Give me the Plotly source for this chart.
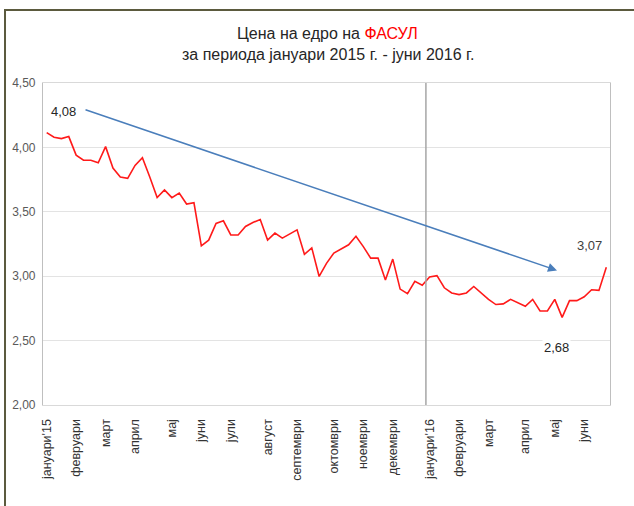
import plotly.graph_objects as go

# ---- data ----
prices = [4.115, 4.079, 4.068, 4.084, 3.94, 3.90, 3.90, 3.88, 4.006, 3.84,
          3.77, 3.76, 3.86, 3.92, 3.77, 3.61, 3.67, 3.61, 3.645, 3.56,
          3.57, 3.236, 3.28, 3.41, 3.43, 3.32, 3.32, 3.386, 3.417, 3.44,
          3.28, 3.335, 3.296, 3.33, 3.36, 3.17, 3.22, 2.998, 3.10, 3.18,
          3.21, 3.244, 3.31, 3.23, 3.14, 3.14, 2.97, 3.133, 2.90, 2.864,
          2.96, 2.93, 2.994, 3.004, 2.91, 2.87, 2.857, 2.87, 2.92, 2.87,
          2.82, 2.78, 2.785, 2.82, 2.79, 2.766, 2.82, 2.73, 2.73, 2.82,
          2.68, 2.81, 2.81, 2.84, 2.895, 2.89, 3.07]
week_index = list(range(len(prices)))

month_labels = ["јануари'15", "февруари", "март", "април", "мај", "јуни", "јули",
                "август", "септември", "октомври", "ноември", "декември",
                "јануари'16", "февруари", "март", "април", "мај", "јуни"]
month_start_week = [0, 4, 8, 12, 17, 21, 25, 30, 34, 39, 43, 47, 52, 56, 60, 65, 69, 73]

y_ticks = [2.0, 2.5, 3.0, 3.5, 4.0, 4.5]
label_start = "4,08"
label_end = "3,07"
label_min = "2,68"

FONT = "Liberation Sans Narrow, Arial Narrow, Liberation Sans, Arial, sans-serif"
TICKFONT = "Liberation Sans, Arial, sans-serif"

fig = go.Figure()
fig.add_trace(go.Scatter(x=week_index, y=prices, mode="lines",
                         line=dict(color="#ff1a1a", width=1.6),
                         hoverinfo="skip", showlegend=False))

jan16 = month_start_week[month_labels.index("јануари'16")]

fig.update_layout(
    width=634, height=506,
    margin=dict(l=43, r=24, t=83, b=101),
    paper_bgcolor="white", plot_bgcolor="white",
    separators=",.",
    showlegend=False,
    xaxis=dict(range=[-0.5, len(prices) - 0.5], tickmode="array",
               tickvals=month_start_week, ticktext=month_labels,
               tickangle=-90, tickfont=dict(family=TICKFONT, size=12.5, color="#333333"),
               showgrid=False, zeroline=False, showline=True, linecolor="#d9d9d9",
               linewidth=1.2, mirror=True, ticks="", fixedrange=True, automargin=False,
               ticklabelstandoff=8),
    yaxis=dict(range=[2.0, 4.5], tickmode="array", tickvals=y_ticks,
               tickformat=".2f", tickfont=dict(family=TICKFONT, size=12, color="#595959"),
               showgrid=True, gridcolor="#e3e3e3", gridwidth=1.2, zeroline=False,
               showline=True, linecolor="#bfbfbf", linewidth=1.2, mirror=True,
               ticks="", ticklabelstandoff=4, automargin=False),
    shapes=[
        dict(type="line", xref="x", yref="paper", x0=jan16 - 0.5, x1=jan16 - 0.5,
             y0=0, y1=1, line=dict(color="#a6a6a6", width=1.5)),
        dict(type="rect", xref="paper", yref="paper", x0=-0.067, x1=1.2,
             y0=-0.4, y1=1.2267, line=dict(color="#5b5a3e", width=2),
             fillcolor="rgba(0,0,0,0)", layer="below"),
    ],
    annotations=[
        dict(xref="paper", yref="paper", x=0.502, y=1.155, showarrow=False,
             text="Цена на едро на <span style='color:#ff0000'>ФАСУЛ</span>",
             font=dict(family=FONT, size=16, color="#262626"), yanchor="middle"),
        dict(xref="paper", yref="paper", x=0.502, y=1.087, showarrow=False,
             text="за периода јануари 2015 г. - јуни 2016 г.",
             font=dict(family=FONT, size=16, color="#262626"), yanchor="middle"),
        dict(x=69.3, y=3.045, ax=5.07, ay=4.296, xref="x", yref="y",
             axref="x", ayref="y", showarrow=True, arrowhead=2, arrowsize=1.2,
             arrowwidth=1.5, arrowcolor="#4a7ebb", text=""),
        dict(x=2.35, y=4.275, xref="x", yref="y", text=label_start, showarrow=False,
             font=dict(family=TICKFONT, size=13, color="#262626")),
        dict(x=73.7, y=3.236, xref="x", yref="y", text=label_end, showarrow=False,
             font=dict(family=TICKFONT, size=13, color="#404040")),
        dict(x=69.3, y=2.446, xref="x", yref="y", text=label_min, showarrow=False,
             bgcolor="white", font=dict(family=TICKFONT, size=13, color="#262626")),
    ],
)

fig.write_html("out.html", config={"displayModeBar": False},
               post_script="document.body.style.margin='0';document.body.style.padding='0';")
